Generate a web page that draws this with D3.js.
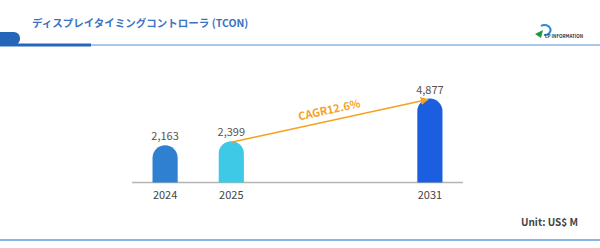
<!DOCTYPE html>
<html>
<head>
<meta charset="utf-8">
<script src="https://cdn.jsdelivr.net/npm/d3@7"></script>
<style>
  body { margin: 0; background: #fff; }
  svg { display: block; font-family: "Noto Sans CJK JP", "Noto Sans", sans-serif; }
</style>
</head>
<body>
<div id="chart"></div>
<script>
// chart data
const title = "ディスプレイタイミングコントローラ (TCON)";
const years = ["2024", "2025", "2031"];
const values = [2163, 2399, 4877];
const barColors = ["#2f80d1", "#3ec9e6", "#1b5fe0"];
// slots on the x axis (two empty ones between 2025 and 2031)
const slots = ["2024", "2025", "gap1", "gap2", "2031"];
const cagrLabel = "CAGR12.6%";
const unitLabel = "Unit: US$ M";

const width = 600, height = 248;
const svg = d3.select("#chart").append("svg")
  .attr("width", width)
  .attr("height", height);

// header decoration
svg.append("line")
  .attr("x1", 0).attr("x2", width).attr("y1", 45).attr("y2", 45)
  .attr("stroke", "#8ab4e6").attr("stroke-width", 1.5);
svg.append("line")
  .attr("x1", 0).attr("x2", 91).attr("y1", 45).attr("y2", 45)
  .attr("stroke", "#2566b8").attr("stroke-width", 3);
svg.append("path")
  .attr("d", "M0,32 L14,32 A6,6 0 0 1 20,38 L20,39 A6,6 0 0 1 14,45 L0,45 Z")
  .attr("fill", "#2566b8");

svg.append("text")
  .attr("x", 32).attr("y", 27)
  .attr("font-size", 10.5).attr("font-weight", "bold")
  .attr("fill", "#3b72c4")
  .text(title);

// logo (simple mark + text)
const logo = svg.append("g").attr("transform", "translate(535,22)");
logo.append("path")
  .attr("d", "M6,4 A6,5 0 1 1 9,13")
  .attr("fill", "none").attr("stroke", "#2a8ad8").attr("stroke-width", 2);
logo.append("path")
  .attr("d", "M0,12 L8,8 L6,16 Z")
  .attr("fill", "#1f9a3a");
logo.append("text")
  .attr("x", 10).attr("y", 16)
  .attr("font-size", 4.5).attr("font-weight", "bold")
  .attr("fill", "#333")
  .text("LP INFORMATION");

// bottom rule and unit
svg.append("line")
  .attr("x1", 0).attr("x2", width).attr("y1", 240).attr("y2", 240)
  .attr("stroke", "#8ab4e6").attr("stroke-width", 2);
svg.append("text")
  .attr("x", 578).attr("y", 226)
  .attr("text-anchor", "end")
  .attr("font-size", 10).attr("font-weight", "bold")
  .attr("fill", "#444")
  .text(unitLabel);

// scales
const baseY = 182.5;
const x = d3.scaleBand().domain(slots).range([132, 463]).paddingInner(0.62).paddingOuter(0.31);
const y = d3.scaleLinear().domain([0, 4877]).range([baseY, 98.5]);

// axis
svg.append("line")
  .attr("x1", 132).attr("x2", 463).attr("y1", baseY).attr("y2", baseY)
  .attr("stroke", "#b5b5b5").attr("stroke-width", 1.5);

const bw = x.bandwidth();
const r = bw / 2;

function barPath(d, i) {
  const x0 = x(d), x1 = x0 + bw;
  const top = y(values[i]);
  return `M${x0},${baseY} L${x0},${top + r} A${r},${r} 0 0 1 ${x1},${top + r} L${x1},${baseY} Z`;
}

svg.selectAll(".bar").data(years).enter().append("path")
  .attr("class", "bar")
  .attr("d", barPath)
  .attr("fill", (d, i) => barColors[i]);

svg.selectAll(".val").data(years).enter().append("text")
  .attr("class", "val")
  .attr("x", d => x(d) + r)
  .attr("y", (d, i) => y(values[i]) - 5)
  .attr("text-anchor", "middle")
  .attr("font-size", 11)
  .attr("fill", "#555")
  .text((d, i) => d3.format(",")(values[i]));

svg.selectAll(".yr").data(years).enter().append("text")
  .attr("class", "yr")
  .attr("x", d => x(d) + r)
  .attr("y", baseY + 16)
  .attr("text-anchor", "middle")
  .attr("font-size", 11)
  .attr("fill", "#444")
  .text(d => d);

// CAGR arrow from 2025 top to 2031 top
const ax1 = x("2025") + r, ay1 = y(values[1]) + 1;
const ax2 = x("2031") + r - 2, ay2 = y(values[2]) + 1;
svg.append("defs").append("marker")
  .attr("id", "arrow")
  .attr("viewBox", "0 0 10 10")
  .attr("refX", 9).attr("refY", 5)
  .attr("markerWidth", 5).attr("markerHeight", 5)
  .attr("orient", "auto")
  .append("path").attr("d", "M0,0 L10,5 L0,10 Z").attr("fill", "#f5a21f");
svg.append("line")
  .attr("x1", ax1).attr("y1", ay1).attr("x2", ax2).attr("y2", ay2)
  .attr("stroke", "#f5a21f").attr("stroke-width", 1.6)
  .attr("marker-end", "url(#arrow)");

const ang = Math.atan2(ay2 - ay1, ax2 - ax1) * 180 / Math.PI;
const mx = 330, my = y(values[1]) + (y(values[2]) - y(values[1])) * ((330 - ax1) / (ax2 - ax1));
svg.append("text")
  .attr("transform", `translate(${mx},${my - 6}) rotate(${ang})`)
  .attr("text-anchor", "middle")
  .attr("font-size", 11).attr("font-weight", "bold")
  .attr("fill", "#f5a21f")
  .text(cagrLabel);
</script>
</body>
</html>
